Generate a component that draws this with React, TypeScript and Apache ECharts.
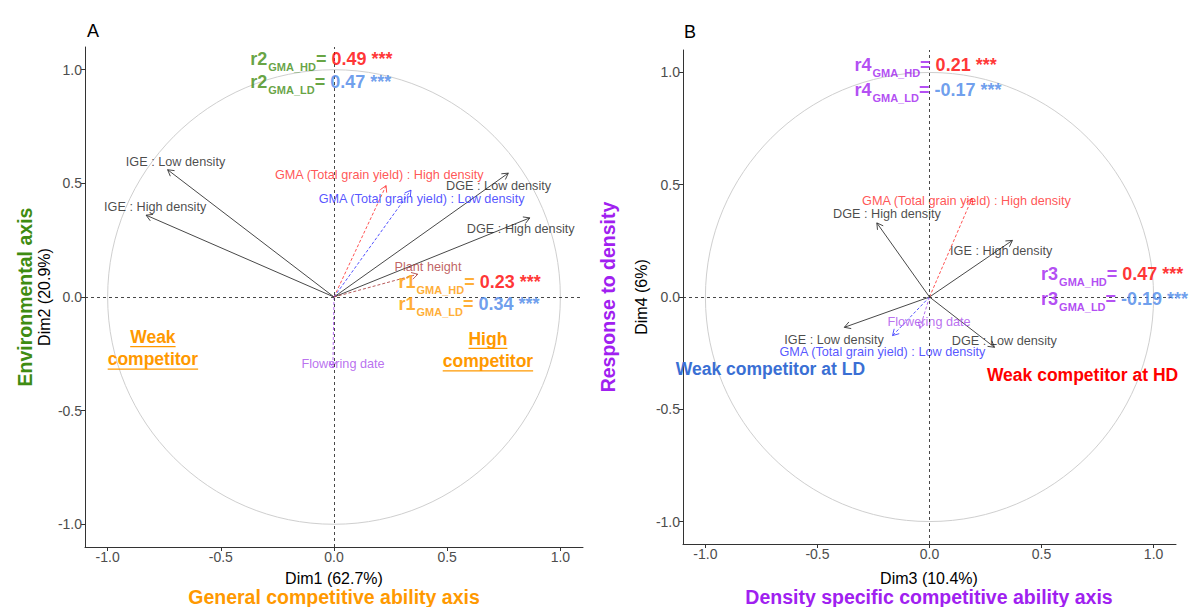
import React, { useEffect, useRef } from "react";
import * as echarts from "echarts";

// ---------------- DATA ----------------
const tickValues = [-1, -0.5, 0, 0.5, 1];

const panelAVariables = [
  "IGE : Low density",
  "IGE : High density",
  "DGE : Low density",
  "DGE : High density",
  "GMA (Total grain yield) : High density",
  "GMA (Total grain yield) : Low density",
  "Plant height",
  "Flowering date",
];
const panelADim1 = [-0.735, -0.83, 0.77, 0.865, 0.23, 0.34, 0.37, -0.005];
const panelADim2 = [0.56, 0.36, 0.545, 0.348, 0.49, 0.47, 0.1, -0.31];
const panelALabelDim1 = [-0.7, -0.79, 0.727, 0.825, 0.2, 0.387, 0.415, 0.04];
const panelALabelDim2 = [0.595, 0.395, 0.49, 0.3, 0.537, 0.43, 0.134, -0.296];

const panelBVariables = [
  "DGE : High density",
  "IGE : High density",
  "GMA (Total grain yield) : High density",
  "IGE : Low density",
  "GMA (Total grain yield) : Low density",
  "DGE : Low density",
  "Flowering date",
];
const panelBDim3 = [-0.235, 0.37, 0.19, -0.38, -0.165, 0.29, -0.043];
const panelBDim4 = [0.33, 0.252, 0.44, -0.135, -0.172, -0.224, -0.14];
const panelBLabelDim3 = [-0.19, 0.32, 0.165, -0.426, -0.21, 0.334, -0.002];
const panelBLabelDim4 = [0.37, 0.204, 0.427, -0.19, -0.243, -0.194, -0.113];

const r2Values = ["0.49", "0.47"]; // Dim2 correlation, HD / LD
const r1Values = ["0.23", "0.34"]; // Dim1 correlation, HD / LD
const r4Values = ["0.21", "-0.17"]; // Dim4 correlation, HD / LD
const r3Values = ["0.47", "-0.19"]; // Dim3 correlation, HD / LD
const significance = ["***", "***"];

// ---------------- STYLE ----------------
const FONT = "'Liberation Sans', Arial, sans-serif";
const GREEN = "#3F8C12";
const ORANGE = "#FF9900";
const PURPLE = "#A020F0";
const RED = "#FF0000";
const BLUE_VAL = "#4A86E8";

function varStyle(name: string) {
  if (name.startsWith("GMA") && name.includes("High")) return { line: "#FF4040", text: "#FF2A2A", dashed: true };
  if (name.startsWith("GMA")) return { line: "#4040FF", text: "#2A2AFF", dashed: true };
  if (name === "Plant height") return { line: "#B04848", text: "#B03A3A", dashed: true };
  if (name === "Flowering date") return { line: "#B060F0", text: "#A84CEB", dashed: true };
  return { line: "#333333", text: "#1A1A1A", dashed: false };
}

const canvasCtx = typeof document !== "undefined" ? document.createElement("canvas").getContext("2d") : null;
function measure(text: string, font: string) {
  if (!canvasCtx) return text.length * 9;
  canvasCtx.font = font;
  return canvasCtx.measureText(text).width;
}

function axisPair(gridIndex: number) {
  return {
    gridIndex,
    type: "value",
    min: -1.1,
    max: 1.1,
    splitLine: { show: false },
    axisLine: { show: true, onZero: false, lineStyle: { color: "#333333", width: 1 } },
    axisTick: { show: true, length: 4, customValues: tickValues, lineStyle: { color: "#333333" } },
    axisLabel: {
      show: true,
      customValues: tickValues,
      formatter: (v: number) => v.toFixed(1),
      color: "#4D4D4D",
      fontSize: 14,
      fontFamily: FONT,
      margin: 3,
    },
  };
}

function circleSeries(ax: number) {
  return {
    type: "custom",
    xAxisIndex: ax,
    yAxisIndex: ax,
    silent: true,
    z: 1,
    data: [[0, 0]],
    encode: { x: 0, y: 1 },
    renderItem: (params: any, api: any) => {
      const c = api.coord([0, 0]);
      const s = api.size([1, 1]);
      return {
        type: "ellipse",
        shape: { cx: c[0], cy: c[1], rx: s[0], ry: s[1] },
        style: { stroke: "#CFCFCF", fill: "none", lineWidth: 1 },
      };
    },
    markLine: {
      silent: true,
      symbol: "none",
      label: { show: false },
      lineStyle: { type: [3, 3], color: "#333333", width: 0.9 },
      data: [{ xAxis: 0 }, { yAxis: 0 }],
    },
  };
}

function arrowSeries(ax: number, names: string[], xs: number[], ys: number[]) {
  return {
    type: "custom",
    xAxisIndex: ax,
    yAxisIndex: ax,
    silent: true,
    z: 3,
    data: xs.map((x, i) => [x, ys[i], i]),
    encode: { x: 0, y: 1 },
    renderItem: (params: any, api: any) => {
      const i = api.value(2);
      const st = varStyle(names[i]);
      const p0 = api.coord([0, 0]);
      const p1 = api.coord([api.value(0), api.value(1)]);
      const ang = Math.atan2(p1[1] - p0[1], p1[0] - p0[0]);
      const L = 7;
      const a = Math.PI / 6;
      const h1 = [p1[0] - L * Math.cos(ang - a), p1[1] - L * Math.sin(ang - a)];
      const h2 = [p1[0] - L * Math.cos(ang + a), p1[1] - L * Math.sin(ang + a)];
      return {
        type: "group",
        children: [
          {
            type: "line",
            shape: { x1: p0[0], y1: p0[1], x2: p1[0], y2: p1[1] },
            style: { stroke: st.line, lineWidth: 0.9, lineDash: st.dashed ? [3, 2] : null },
          },
          {
            type: "polyline",
            shape: { points: [h1, p1, h2] },
            style: { stroke: st.line, lineWidth: 0.9, fill: null },
          },
        ],
      };
    },
  };
}

function labelSeries(ax: number, names: string[], xs: number[], ys: number[]) {
  return {
    type: "scatter",
    xAxisIndex: ax,
    yAxisIndex: ax,
    silent: true,
    symbolSize: 0,
    z: 4,
    data: xs.map((x, i) => ({
      name: names[i],
      value: [x, ys[i]],
      label: { color: varStyle(names[i]).text },
    })),
    label: {
      show: true,
      position: "inside",
      formatter: "{b}",
      fontSize: 12.7,
      fontFamily: FONT,
    },
  };
}

function richFor(main: string) {
  return {
    m: { fontSize: 18, fontWeight: "bold", color: main, fontFamily: FONT },
    s: { fontSize: 11, fontWeight: "bold", color: main, fontFamily: FONT, padding: [16, 0, 0, 1] },
    hd: { fontSize: 18, fontWeight: "bold", color: RED, fontFamily: FONT },
    ld: { fontSize: 18, fontWeight: "bold", color: BLUE_VAL, fontFamily: FONT },
  };
}

function corrSeries(ax: number, label: string, main: string, values: string[], x: number, ys: number[]) {
  return {
    type: "scatter",
    xAxisIndex: ax,
    yAxisIndex: ax,
    silent: true,
    symbolSize: 0,
    z: 6,
    data: values.map((v, i) => ({
      value: [x, ys[i]],
      label: {
        formatter: `{m|${label}}{s|${i === 0 ? "GMA_HD" : "GMA_LD"}}{m|= }{${i === 0 ? "hd" : "ld"}|${v} ${significance[i]}}`,
      },
    })),
    label: {
      show: true,
      position: "inside",
      align: "left",
      verticalAlign: "middle",
      rich: richFor(main),
    },
  };
}

function plainTextSeries(ax: number, texts: string[], xs: number[], ys: number[], color: string, underline: boolean) {
  const font = `bold 17.5px ${FONT}`;
  return {
    type: "custom",
    xAxisIndex: ax,
    yAxisIndex: ax,
    silent: true,
    z: 6,
    data: texts.map((t, i) => [xs[i], ys[i], i]),
    encode: { x: 0, y: 1 },
    renderItem: (params: any, api: any) => {
      const idx = api.value(2);
      const c = api.coord([api.value(0), api.value(1)]);
      const lines = texts[idx].split("\n");
      const spacing = 22.5;
      const children: any[] = [];
      lines.forEach((ln, k) => {
        const cy = c[1] + (k - (lines.length - 1) / 2) * spacing;
        children.push({
          type: "text",
          style: {
            text: ln,
            x: c[0],
            y: cy,
            align: "center",
            verticalAlign: "middle",
            font,
            fill: color,
          },
        });
        if (underline) {
          const w = measure(ln, font);
          children.push({
            type: "rect",
            shape: { x: c[0] - w / 2, y: cy + 9, width: w, height: 1.3 },
            style: { fill: color },
          });
        }
      });
      return { type: "group", children };
    },
  };
}

function text(x: number, y: number, t: string, font: string, color: string, rotate = false) {
  return {
    type: "text",
    x,
    y,
    rotation: rotate ? Math.PI / 2 : 0,
    style: { text: t, font, fill: color, align: "center", verticalAlign: "middle" },
    silent: true,
  };
}

export default function App() {
  const ref = useRef<HTMLDivElement>(null);
  useEffect(() => {
    if (!ref.current) return;
    const chart = echarts.init(ref.current, null, { renderer: "svg" });
    const option: any = {
      animation: false,
      backgroundColor: "#FFFFFF",
      grid: [
        { left: 85, top: 47, width: 498, height: 500 },
        { left: 683, top: 50, width: 493, height: 494 },
      ],
      xAxis: [axisPair(0), axisPair(1)],
      yAxis: [axisPair(0), axisPair(1)],
      series: [
        circleSeries(0),
        circleSeries(1),
        arrowSeries(0, panelAVariables, panelADim1, panelADim2),
        arrowSeries(1, panelBVariables, panelBDim3, panelBDim4),
        labelSeries(0, panelAVariables, panelALabelDim1, panelALabelDim2),
        labelSeries(1, panelBVariables, panelBLabelDim3, panelBLabelDim4),
        corrSeries(0, "r2", GREEN, r2Values, -0.37, [1.048, 0.945]),
        corrSeries(0, "r1", ORANGE, r1Values, 0.285, [0.066, -0.03]),
        corrSeries(1, "r4", PURPLE, r4Values, -0.335, [1.033, 0.922]),
        corrSeries(1, "r3", PURPLE, r3Values, 0.498, [0.102, -0.01]),
        plainTextSeries(0, ["Weak\ncompetitor", "High\ncompetitor"], [-0.8, 0.68], [-0.225, -0.233], ORANGE, true),
        plainTextSeries(1, ["Weak competitor at LD"], [-0.71], [-0.322], "#3A6FD4", false),
        plainTextSeries(1, ["Weak competitor at HD"], [0.683], [-0.348], RED, false),
      ],
      graphic: [
        text(93, 31, "A", `18px ${FONT}`, "#000000"),
        text(690, 32, "B", `18px ${FONT}`, "#000000"),
        text(334, 578, "Dim1 (62.7%)", `16px ${FONT}`, "#000000"),
        text(334, 597, "General competitive ability axis", `bold 19.5px ${FONT}`, ORANGE),
        text(929, 578, "Dim3 (10.4%)", `16px ${FONT}`, "#000000"),
        text(929, 597, "Density specific competitive ability axis", `bold 19.5px ${FONT}`, PURPLE),
        text(44, 297, "Dim2 (20.9%)", `16px ${FONT}`, "#000000", true),
        text(25, 297, "Environmental axis", `bold 19.5px ${FONT}`, GREEN, true),
        text(641, 297, "Dim4 (6%)", `16px ${FONT}`, "#000000", true),
        text(608, 297, "Response to density", `bold 19.5px ${FONT}`, PURPLE, true),
      ],
    };
    chart.setOption(option);
    return () => chart.dispose();
  }, []);
  return (
    <div
      ref={ref}
      style={{ position: "fixed", left: 0, top: 0, width: 1201, height: 607, background: "#fff" }}
    />
  );
}
